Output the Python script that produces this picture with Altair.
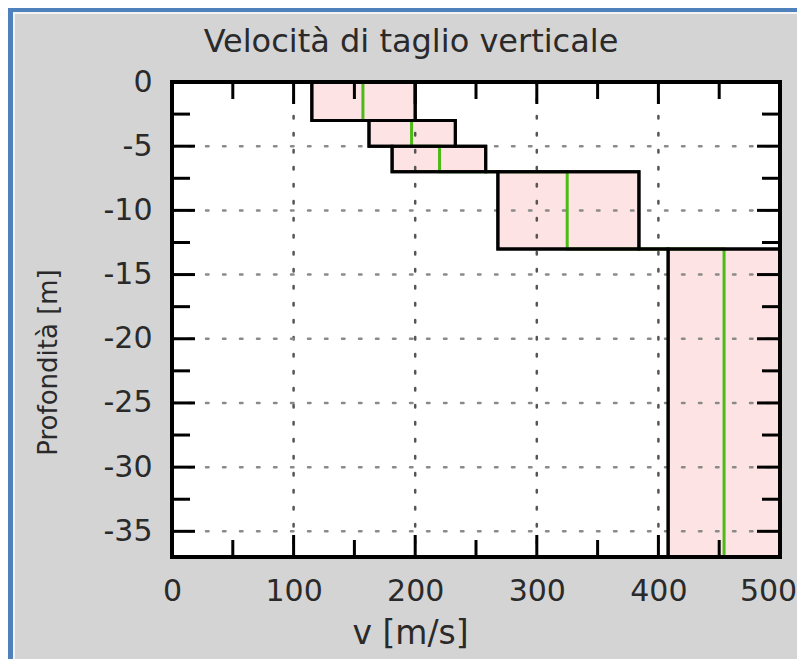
import altair as alt
import pandas as pd

# ---- data ----
title_text = "Velocità di taglio verticale"
x_title = "v [m/s]"
y_title = "Profondità [m]"

depth_top = [0, -3, -5, -7, -13]
depth_bottom = [-3, -5, -7, -13, -37]
v_min = [115, 162, 181, 268, 408]
v_max = [200, 233, 258, 384, 500]
v_mean = [157, 197, 220, 325, 454]

x_labels = [0, 100, 200, 300, 400, 500]
y_labels = [0, -5, -10, -15, -20, -25, -30, -35]
x_major_ticks = [100, 200, 300, 400]
x_minor_ticks = [50, 150, 250, 350, 450]
y_major_ticks = [-5, -10, -15, -20, -25, -30, -35]
y_minor_ticks = [-2.5, -7.5, -12.5, -17.5, -22.5, -27.5, -32.5]
x_grid = [100, 200, 300, 400]
y_grid = [-5, -10, -15, -20, -25, -30, -35]

# ---- layout ----
W, H = 608, 475
PAD = {"left": 164, "top": 74, "right": 17, "bottom": 102}
FONT = "DejaVu Sans"
TXT = "#2a2a2a"

xs = alt.Scale(domain=[0, 500], nice=False, zero=False)
ys = alt.Scale(domain=[-37, 0], nice=False, zero=False)

layers_df = pd.DataFrame({"top": depth_top, "bottom": depth_bottom,
                          "vmin": v_min, "vmax": v_max, "vmean": v_mean})


def step_df(values):
    rows = []
    k = 0
    for t, b, v in zip(depth_top, depth_bottom, values):
        rows.append({"v": v, "d": t, "i": k}); k += 1
        rows.append({"v": v, "d": b, "i": k}); k += 1
    return pd.DataFrame(rows)


def X(field):
    return alt.X(field, scale=xs, title=x_title)


def Y(field):
    return alt.Y(field, scale=ys, title=y_title)


one = pd.DataFrame({"a": [0]})


def deco(x, x2, y, y2, color):
    return alt.Chart(one).mark_rect(color=color).encode(
        x=alt.value(x), x2=alt.value(x2), y=alt.value(y), y2=alt.value(y2))


decor = [
    deco(-164, -159, -74, H + 102, "#4f81bd"),
    deco(-164, W + 17, -74, -70, "#4f81bd"),
    deco(-159, -157, -70, H + 102, "#f4f4f4"),
    deco(-159, W + 17, -70, -68, "#f4f4f4"),
]

white_plot = deco(0, W, 0, H, "#ffffff")

title_mark = alt.Chart(pd.DataFrame({"t": [title_text]})).mark_text(
    font=FONT, fontSize=32, color=TXT, align="center", baseline="alphabetic").encode(
    text="t:N", x=alt.value(239), y=alt.value(-30))

fills = alt.Chart(layers_df).mark_rect(color="#fde3e3").encode(
    x=alt.X("vmin:Q", scale=xs, title=x_title,
            axis=alt.Axis(values=x_labels, labelPadding=19, labelFlush=False,
                          labelOffset={"condition": {"test": "datum.value === 500", "value": -12},
                                       "value": 0},
                          titleX=238, titleY=86, titleFontSize=33,
                          titleBaseline="alphabetic", titleAlign="center")),
    x2="vmax:Q",
    y=alt.Y("top:Q", scale=ys, title=y_title,
            axis=alt.Axis(values=y_labels, labelPadding=20, labelFlush=False,
                          labelExpr="'' + datum.value",
                          titleX=-116, titleY=280, titleFontSize=26,
                          titleBaseline="alphabetic", titleAlign="center")),
    y2="bottom:Q",
)

grid_x = alt.Chart(pd.DataFrame({"v": x_grid})).mark_rule(
    color="#555555", strokeWidth=2.5, strokeDash=[2.5, 14.5], strokeCap="round").encode(
    x=X("v:Q"), y=alt.value(0), y2=alt.value(H))

grid_y = alt.Chart(pd.DataFrame({"d": y_grid})).mark_rule(
    color="#8a8a8a", strokeWidth=2.5, strokeDash=[2.5, 14.5], strokeCap="round").encode(
    y=Y("d:Q"), x=alt.value(0), x2=alt.value(W))

mean_line = alt.Chart(step_df(v_mean)).mark_line(color="#4cbb17", strokeWidth=3).encode(
    x=X("v:Q"), y=Y("d:Q"), order="i:Q")

box_outline = alt.Chart(layers_df).mark_rect(fillOpacity=0, stroke="black", strokeWidth=3).encode(
    x=X("vmin:Q"), x2="vmax:Q", y=Y("top:Q"), y2="bottom:Q")

min_line = alt.Chart(step_df(v_min)).mark_line(color="black", strokeWidth=3).encode(
    x=X("v:Q"), y=Y("d:Q"), order="i:Q")

max_line = alt.Chart(step_df(v_max)).mark_line(color="black", strokeWidth=3).encode(
    x=X("v:Q"), y=Y("d:Q"), order="i:Q")


def xticks(vals, y0, y1):
    return alt.Chart(pd.DataFrame({"v": vals})).mark_rule(color="black", strokeWidth=3).encode(
        x=X("v:Q"), y=alt.value(y0), y2=alt.value(y1))


def yticks(vals, x0, x1):
    return alt.Chart(pd.DataFrame({"d": vals})).mark_rule(color="black", strokeWidth=3).encode(
        y=Y("d:Q"), x=alt.value(x0), x2=alt.value(x1))


ticks = [
    xticks(x_major_ticks, 0, 22), xticks(x_minor_ticks, 0, 17),
    xticks(x_major_ticks, H, H - 22), xticks(x_minor_ticks, H, H - 17),
    yticks(y_major_ticks, 0, 23), yticks(y_minor_ticks, 0, 18),
    yticks(y_major_ticks, W, W - 23), yticks(y_minor_ticks, W, W - 18),
]

frame = alt.Chart(one).mark_rect(fillOpacity=0, stroke="black", strokeWidth=4).encode(
    x=alt.value(0), x2=alt.value(W), y=alt.value(0), y2=alt.value(H))

chart = alt.layer(
    *decor, white_plot, title_mark, fills, grid_x, grid_y, mean_line, box_outline,
    min_line, max_line, *ticks, frame
).properties(
    width=W, height=H,
    padding=PAD,
    autosize=alt.AutoSizeParams(type="none"),
    background="#d4d4d4",
).configure_view(stroke=None).configure_axis(
    grid=False, ticks=False, tickSize=0, domain=False,
    labelFontSize=30, labelColor=TXT, labelFont=FONT,
    titleFontSize=28, titleFont=FONT, titleFontWeight="normal", titleColor=TXT,
)

chart.save("out.html", embed_options={"renderer": "svg", "actions": False})
